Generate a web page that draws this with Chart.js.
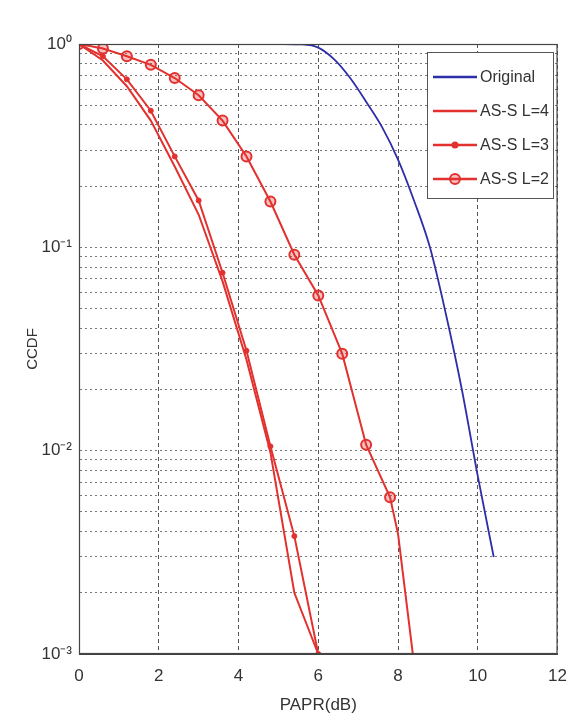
<!DOCTYPE html>
<html>
<head>
<meta charset="utf-8">
<script src="https://cdn.jsdelivr.net/npm/chart.js@4.4.0/dist/chart.umd.min.js"></script>
<style>
  html, body { margin: 0; padding: 0; background: #fff; }
  #wrap { width: 568px; height: 719px; }
</style>
</head>
<body>
<div id="wrap"><canvas id="ccdfChart" width="568" height="719"></canvas></div>
<script>
// ======= data =======
const xTicks = [0, 2, 4, 6, 8, 10, 12];
const yDecades = [0.001, 0.01, 0.1, 1];
const yDecadeLabels = ["10⁻³", "10⁻²", "10⁻¹", "10⁰"];

const seriesNames = ["Original", "AS-S L=4", "AS-S L=3", "AS-S L=2"];

// Original
const paprOrig = [5.0, 5.6, 6.0, 6.4, 6.8, 7.2, 7.6, 8.0, 8.4, 8.8, 9.2, 9.6, 10.0, 10.4];
const ccdfOrig = [1.0, 0.995, 0.96, 0.84, 0.68, 0.52, 0.39, 0.27, 0.17, 0.10, 0.047, 0.02, 0.0075, 0.003];

// AS-S L=4
const paprL4 = [0, 0.6, 1.2, 1.8, 2.4, 3.0, 3.6, 4.2, 4.8, 5.4, 6.0];
const ccdfL4 = [1.0, 0.83, 0.62, 0.42, 0.25, 0.145, 0.068, 0.028, 0.0098, 0.002, 0.001];

// AS-S L=3
const paprL3 = [0, 0.6, 1.2, 1.8, 2.4, 3.0, 3.6, 4.2, 4.8, 5.4, 6.0];
const ccdfL3 = [1.0, 0.87, 0.67, 0.47, 0.28, 0.17, 0.075, 0.031, 0.0105, 0.0038, 0.001];

// AS-S L=2 (circles only on the first 14 points)
const paprL2 = [0, 0.6, 1.2, 1.8, 2.4, 3.0, 3.6, 4.2, 4.8, 5.4, 6.0, 6.6, 7.2, 7.8, 8.0, 8.4];
const ccdfL2 = [1.0, 0.95, 0.87, 0.79, 0.68, 0.56, 0.42, 0.28, 0.168, 0.092, 0.058, 0.030, 0.0107, 0.0059, 0.0039, 0.0009];
const l2Marked = 14;

// ======= styles =======
const FONT = "'Liberation Sans Narrow', 'Liberation Sans', Arial, sans-serif";
const BLUE = "#2e2ea8";
const RED = "#e2312e";
const RED_FILL = "rgba(226,49,46,0.3)";

const toPoints = (xs, ys) => xs.map((x, i) => ({ x: x, y: ys[i] }));

// MATLAB 风格的外框
const boxPlugin = {
    id: "boxPlugin",
    afterDatasetsDraw(chart) {
        const { ctx, chartArea: a } = chart;
        ctx.save();
        ctx.strokeStyle = "#444";
        ctx.lineWidth = 1.2;
        ctx.strokeRect(a.left + 0.5, a.top + 0.5, a.right - a.left - 1, a.bottom - a.top - 1);
        ctx.restore();
    }
};

// legend inside the axes, line + marker like MATLAB
const matlabLegend = {
    id: "matlabLegend",
    afterDraw(chart) {
        const { ctx } = chart;
        const box = { x: 427, y: 52, w: 126, h: 146 };
        const rowY = [77, 111, 145, 179];
        ctx.save();
        ctx.fillStyle = "#fff";
        ctx.fillRect(box.x, box.y, box.w, box.h);
        ctx.strokeStyle = "#555";
        ctx.lineWidth = 1;
        ctx.strokeRect(box.x + 0.5, box.y + 0.5, box.w, box.h);
        chart.data.datasets.forEach((ds, i) => {
            const y = rowY[i];
            const x0 = box.x + 6, x1 = box.x + 50;
            ctx.strokeStyle = ds.borderColor;
            ctx.lineWidth = ds.borderWidth + 0.5;
            ctx.beginPath();
            ctx.moveTo(x0, y);
            ctx.lineTo(x1, y);
            ctx.stroke();
            const r = ds.legendMarker || 0;
            if (r > 0) {
                ctx.beginPath();
                ctx.arc((x0 + x1) / 2, y, r, 0, Math.PI * 2);
                ctx.fillStyle = ds.pointBackgroundColor;
                ctx.fill();
                ctx.lineWidth = 2;
                ctx.strokeStyle = ds.pointBorderColor || ds.borderColor;
                ctx.stroke();
            }
            ctx.fillStyle = "#333";
            ctx.font = "16px " + FONT;
            ctx.textBaseline = "middle";
            ctx.textAlign = "left";
            ctx.fillText(ds.label, x1 + 3, y + 1);
        });
        ctx.restore();
    }
};

const chart = new Chart(document.getElementById("ccdfChart"), {
    type: "line",
    data: {
        datasets: [
            {
                label: seriesNames[0],
                data: toPoints(paprOrig, ccdfOrig),
                borderColor: BLUE,
                borderWidth: 1.8,
                pointRadius: 0,
                cubicInterpolationMode: "monotone"
            },
            {
                label: seriesNames[1],
                data: toPoints(paprL4, ccdfL4),
                borderColor: RED,
                borderWidth: 2,
                pointRadius: 0
            },
            {
                label: seriesNames[2],
                data: toPoints(paprL3, ccdfL3),
                borderColor: RED,
                borderWidth: 2,
                pointRadius: 2.5,
                pointBackgroundColor: RED,
                pointBorderColor: RED,
                pointBorderWidth: 1,
                legendMarker: 2.5
            },
            {
                label: seriesNames[3],
                data: toPoints(paprL2, ccdfL2),
                borderColor: RED,
                borderWidth: 2,
                pointRadius: (c) => (c.dataIndex < l2Marked ? 5 : 0),
                pointBackgroundColor: RED_FILL,
                pointBorderColor: RED,
                pointBorderWidth: 2,
                legendMarker: 5
            }
        ]
    },
    options: {
        responsive: false,
        animation: false,
        layout: { padding: { top: 44, right: 0, left: 0, bottom: 0 } },
        plugins: {
            legend: { display: false },
            tooltip: { enabled: false }
        },
        scales: {
            x: {
                type: "linear",
                min: 0,
                max: 12,
                afterBuildTicks: (s) => { s.ticks = xTicks.map(v => ({ value: v })); },
                afterFit: (s) => { s.height = 65; },
                ticks: {
                    color: "#333",
                    font: { family: FONT, size: 17 },
                    padding: 1,
                    maxRotation: 0
                },
                grid: {
                    color: "#555",
                    lineWidth: 1,
                    drawTicks: true,
                    tickLength: 11,
                    tickColor: "rgba(0,0,0,0)"
                },
                border: { color: "#444", width: 1, dash: [4, 3] },
                title: {
                    display: true,
                    text: "PAPR(dB)",
                    color: "#333",
                    font: { family: FONT, size: 17 },
                    padding: { top: 0, bottom: 3 }
                }
            },
            y: {
                type: "logarithmic",
                min: 0.001,
                max: 1,
                afterBuildTicks: (s) => {
                    const t = [];
                    yDecades.forEach((d, i) => {
                        t.push({ value: d, major: true });
                        if (i < yDecades.length - 1) {
                            for (let k = 2; k <= 9; k++) t.push({ value: d * k });
                        }
                    });
                    s.ticks = t;
                },
                afterFit: (s) => { s.width = 79; },
                ticks: {
                    autoSkip: false,
                    color: "#333",
                    font: { family: FONT, size: 17 },
                    padding: 7,
                    callback: (v) => {
                        const i = yDecades.findIndex(d => Math.abs(d - v) / d < 1e-6);
                        return i >= 0 ? yDecadeLabels[i] : "";
                    }
                },
                grid: { color: "#777", lineWidth: 1, drawTicks: false },
                border: { color: "#444", width: 1, dash: [2, 3] },
                title: {
                    display: true,
                    text: "CCDF",
                    color: "#333",
                    font: { family: FONT, size: 15 },
                    padding: { top: 24, bottom: 0 }
                }
            }
        }
    },
    plugins: [boxPlugin, matlabLegend]
});
</script>
</body>
</html>
